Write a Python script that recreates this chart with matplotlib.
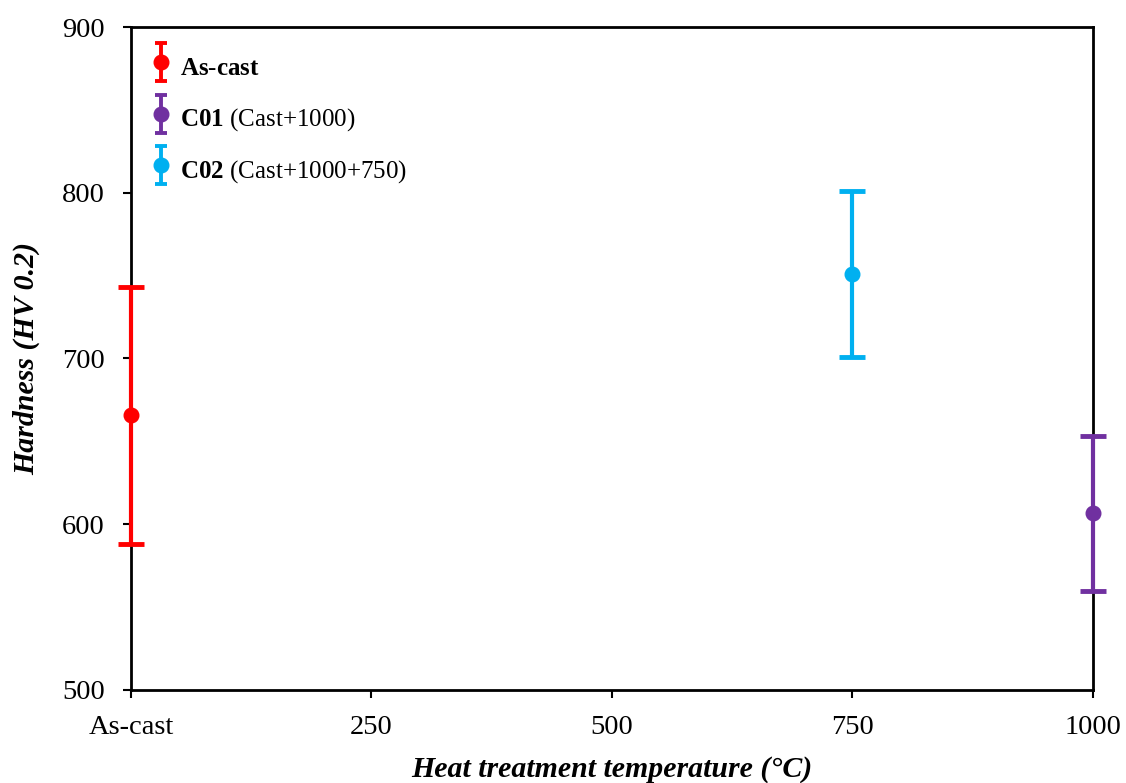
import matplotlib
matplotlib.use("Agg")
import matplotlib.pyplot as plt
import numpy as np
from matplotlib.legend_handler import HandlerErrorbar

plt.rcParams['font.family'] = ['Liberation Serif', 'DejaVu Serif']
plt.rcParams['mathtext.fontset'] = 'custom'
plt.rcParams['mathtext.rm'] = 'Liberation Serif'
plt.rcParams['mathtext.bf'] = 'Liberation Serif:bold'

labels = [r"$\mathbf{As\text{-}cast}$", r"$\mathbf{C01}$ (Cast+1000)", r"$\mathbf{C02}$ (Cast+1000+750)"]
temps = [0, 1000, 750]
means = [666, 607, 751]
upper = [743, 653, 801]
lower = [588, 560, 701]
colors = ["#FF0000", "#7030A0", "#00B0F0"]
xticks = [0, 250, 500, 750, 1000]
xticklabels = ["As-cast", "250", "500", "750", "1000"]
yticks = [500, 600, 700, 800, 900]

fig = plt.figure(figsize=(11.26, 7.83), dpi=100)
ax = fig.add_axes([0.1163, 0.1188, 0.8544, 0.8467])

handles = []
for t, m, u, l, c, lab in zip(temps, means, upper, lower, colors, labels):
    ax.errorbar([t], [m], yerr=[[m - l], [u - m]], fmt='o', color=c, ecolor=c,
                markersize=10.5, elinewidth=3.0, capsize=9.5, capthick=3.5,
                clip_on=False, zorder=5)
    # legend proxy (no data drawn)
    h = ax.errorbar([np.nan], [np.nan], yerr=[[1], [1]], fmt='o', color=c, ecolor=c,
                    markersize=10.5, elinewidth=2.8, capsize=4, capthick=2.8, label=lab)
    handles.append(h)

ax.set_xlim(0, 1000)
ax.set_ylim(500, 900)
ax.set_xticks(xticks)
ax.set_xticklabels(xticklabels)
ax.set_yticks(yticks)
ax.tick_params(axis='both', direction='out', length=6, width=1.5, labelsize=20.5)
ax.tick_params(axis='x', pad=12)
ax.tick_params(axis='y', pad=13)
for s in ax.spines.values():
    s.set_linewidth(2)

ax.set_xlabel("Heat treatment temperature (°C)", fontsize=21.5, fontweight='bold', style='italic')
ax.xaxis.set_label_coords(0.5, -0.100)
ax.set_ylabel("Hardness (HV 0.2)", fontsize=21.5, fontweight='bold', style='italic')
ax.yaxis.set_label_coords(-0.0946, 0.5)

leg = ax.legend(handles=handles, loc='upper left', frameon=False, fontsize=18,
                handlelength=1.0, handleheight=1.6, handletextpad=0.26,
                labelspacing=0.77, borderaxespad=0.0,
                bbox_to_anchor=(0.0078, 0.980),
                handler_map={type(handles[0]): HandlerErrorbar(yerr_size=0.76)})

fig.savefig("out.png", dpi=100)
